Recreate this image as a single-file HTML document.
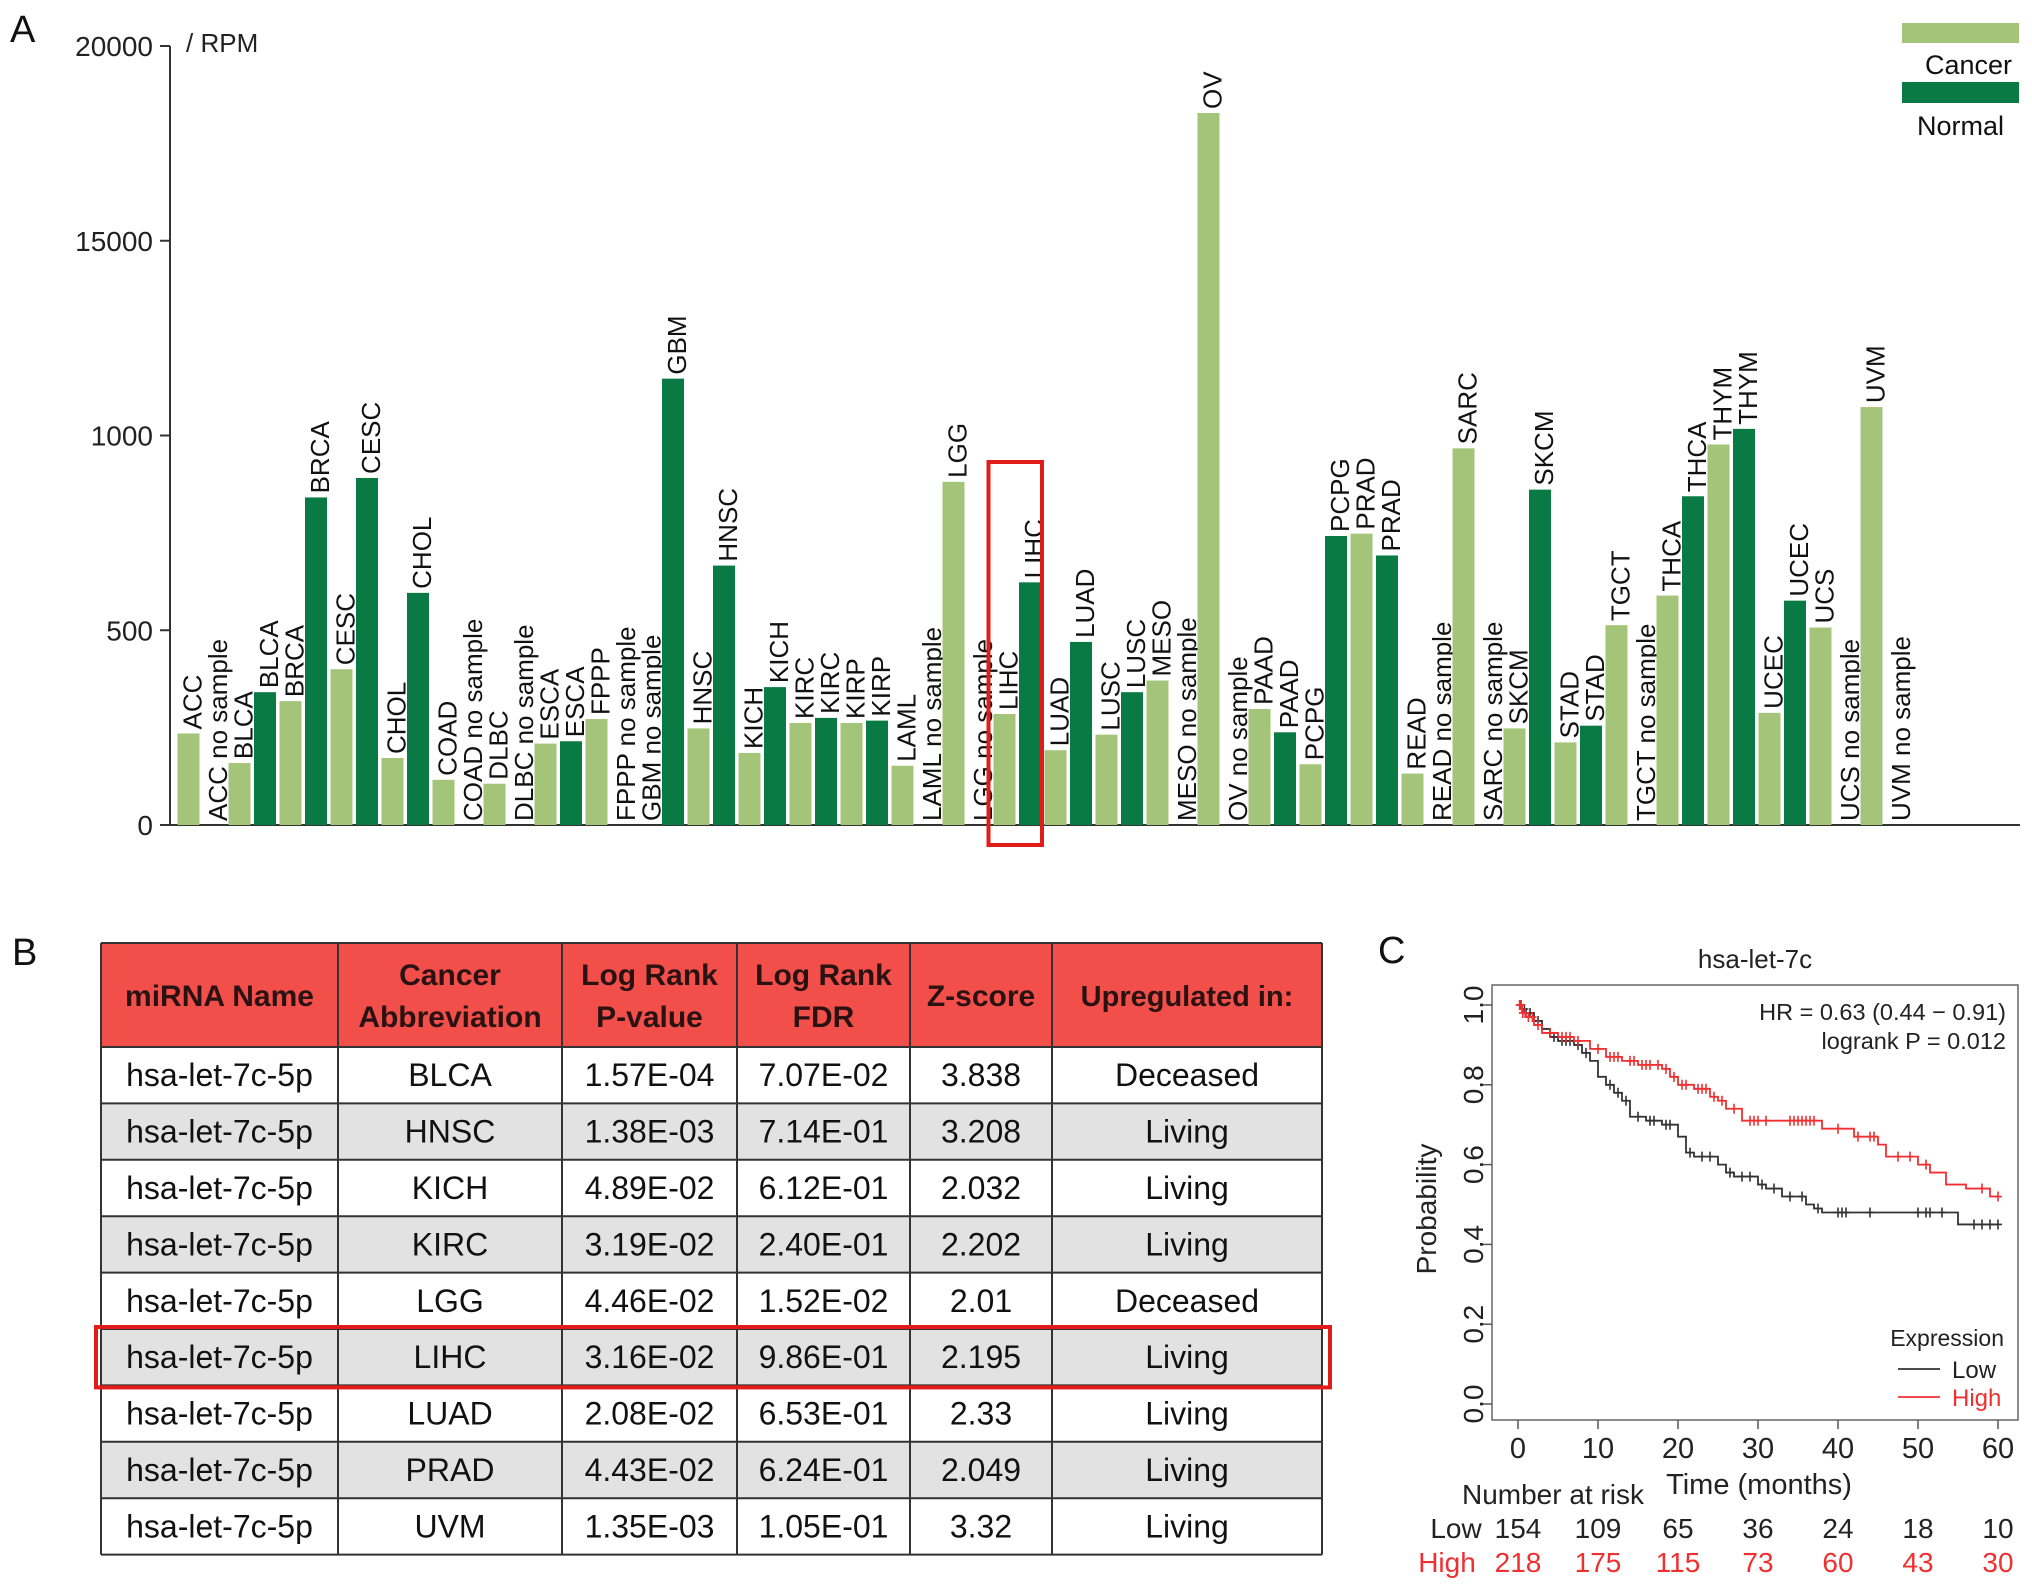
<!DOCTYPE html>
<html><head><meta charset="utf-8"><style>
html,body{margin:0;padding:0;background:#fff;}
svg{display:block;font-family:"Liberation Sans",Arial,sans-serif;}
</style></head><body>
<svg id="fig" width="2032" height="1585" viewBox="0 0 2032 1585">
<g id="panelA"></g>
<g id="panelB"></g>
<g id="panelC"></g>
</svg>
<script>
// ---------- Panel A data ----------
const categories = ["ACC","BLCA","BRCA","CESC","CHOL","COAD","DLBC","ESCA","FPPP","GBM","HNSC","KICH","KIRC","KIRP","LAML","LGG","LIHC","LUAD","LUSC","MESO","OV","PAAD","PCPG","PRAD","READ","SARC","SKCM","STAD","TGCT","THCA","THYM","UCEC","UCS","UVM"];
const cancerValues = [2350,1590,3180,4000,1720,1160,1060,2090,2720,null,2480,1850,2620,2620,1520,8810,2850,1920,2320,3710,18280,2980,1560,7480,1320,9670,2480,2120,5130,5890,9770,2880,5070,10730];
const normalValues = [null,3410,8410,8910,5960,null,null,2150,null,11460,6660,3540,2750,2680,null,null,6230,4700,3410,null,null,2380,7420,6920,null,null,8610,2550,null,8440,10170,5760,null,null];
const yTickValues = [0,5000,10000,15000,20000];
const yTickLabels = ["0","500","1000","15000","20000"];

// ---------- Panel B data ----------
const tableHeader = [["miRNA Name"],["Cancer","Abbreviation"],["Log Rank","P-value"],["Log Rank","FDR"],["Z-score"],["Upregulated in:"]];
const tableRows = [
["hsa-let-7c-5p","BLCA","1.57E-04","7.07E-02","3.838","Deceased"],
["hsa-let-7c-5p","HNSC","1.38E-03","7.14E-01","3.208","Living"],
["hsa-let-7c-5p","KICH","4.89E-02","6.12E-01","2.032","Living"],
["hsa-let-7c-5p","KIRC","3.19E-02","2.40E-01","2.202","Living"],
["hsa-let-7c-5p","LGG","4.46E-02","1.52E-02","2.01","Deceased"],
["hsa-let-7c-5p","LIHC","3.16E-02","9.86E-01","2.195","Living"],
["hsa-let-7c-5p","LUAD","2.08E-02","6.53E-01","2.33","Living"],
["hsa-let-7c-5p","PRAD","4.43E-02","6.24E-01","2.049","Living"],
["hsa-let-7c-5p","UVM","1.35E-03","1.05E-01","3.32","Living"]];

// ---------- Panel C data ----------
const lowTimes = [0,0.5,1,2,3,4,5,7,8,9,10,11,12,13,14,16,18,20,21,22,25,26,27,30,31,33,36,37,38,55];
const lowSurv  = [1,0.99,0.98,0.96,0.94,0.92,0.91,0.90,0.88,0.86,0.82,0.80,0.78,0.76,0.72,0.71,0.70,0.67,0.63,0.62,0.60,0.58,0.57,0.55,0.54,0.52,0.50,0.49,0.48,0.45];
const highTimes = [0,0.5,1,2,3,5,7,9,11,13,15,18,19,20,22,24,25,26,28,38,42,45,46,50,51.5,53.5,56,59];
const highSurv  = [1,0.98,0.97,0.95,0.93,0.92,0.91,0.89,0.87,0.86,0.85,0.84,0.82,0.80,0.79,0.77,0.76,0.74,0.71,0.69,0.67,0.65,0.62,0.60,0.58,0.55,0.54,0.52];
const lowCensor = [0.3,0.8,1.5,2.5,4.5,5.5,6,6.5,7.5,8.5,11.5,12.5,13.5,15,16.5,17,18.5,19,21.5,23,24,26.5,28,29,30.5,32,34,35.5,37.5,40,40.5,41,44,50,51,51.5,53,57,58,59,60];
const highCensor = [0.2,0.4,0.6,0.9,1.3,1.8,2.5,4,5.5,6,6.5,7.5,10,11.5,12,12.5,14,14.5,15.5,16,16.5,17.5,18.5,19.5,20.5,21,22.5,23,23.5,24.5,25.5,27,29,29.5,30,31,34,34.5,35,35.5,36,36.5,37,40,42.5,44,44.5,47.5,49,51,58,60];
const xTicksC = [0,10,20,30,40,50,60];
const yTicksC = [0,0.2,0.4,0.6,0.8,1.0];
const riskLow = [154,109,65,36,24,18,10];
const riskHigh = [218,175,115,73,60,43,30];

const NS="http://www.w3.org/2000/svg";
function mk(tag,attrs,parent,text){const e=document.createElementNS(NS,tag);for(const k in attrs)e.setAttribute(k,attrs[k]);if(text!==undefined)e.textContent=text;parent.appendChild(e);return e;}

// ================= Panel A =================
(function(){
const g=document.getElementById('panelA');
const x0=170, yBase=825, yTop=46, yMax=20000;
const slotW=25.5, firstC=188.5, barW=22;
const yS=v=>yBase-(v/yMax)*(yBase-yTop);
const xS=slot=>firstC+slot*slotW;
let t=mk('text',{x:10,y:42,'font-size':38,fill:'#111'},g,'A');


t=mk('text',{x:186,y:52,'font-size':26,fill:'#222'},g,'/ RPM');


let l=mk('line',{x1:x0,y1:yTop,x2:x0,y2:yBase,stroke:'#333','stroke-width':2},g);


l=mk('line',{x1:x0,y1:yBase,x2:2020,y2:yBase,stroke:'#333','stroke-width':2},g);


yTickValues.forEach((v,i)=>{
  const y=yS(v);
  const tk=mk('line',{x1:x0-10,y1:y,x2:x0,y2:y,stroke:'#333','stroke-width':2},g);
  
  
  const tl=mk('text',{x:153,y:y+10,'font-size':28,'text-anchor':'end',fill:'#222'},g,yTickLabels[i]);
  
  
});
function bar(slot,val,name,color,kind){
  const cx=xS(slot);
  let topY=yBase, label=name+' no sample';
  if(val!==null){
    topY=yS(val);
    const r=mk('rect',{x:cx-barW/2,y:topY,width:barW,height:yBase-topY,fill:color},g);
    
    
    label=name;
  }
  const lx=cx+13, ly=topY-4;
  const tx=mk('text',{x:lx,y:ly,'font-size':26,fill:'#111',transform:`rotate(-90 ${lx} ${ly})`},g,label);
  
  
}
categories.forEach((c,i)=>{
  bar(2*i,cancerValues[i],c,'#a4c47a','cancer');
  bar(2*i+1,normalValues[i],c,'#0a7a45','normal');
});
// legend
let r=mk('rect',{x:1902,y:23,width:117,height:20,fill:'#a4c47a'},g);


t=mk('text',{x:2012,y:74,'font-size':27,'text-anchor':'end',fill:'#111'},g,'Cancer');


r=mk('rect',{x:1902,y:82,width:117,height:21,fill:'#0a7a45'},g);


t=mk('text',{x:2004,y:135,'font-size':27,'text-anchor':'end',fill:'#111'},g,'Normal');


// highlight box around LIHC
const li=categories.indexOf('LIHC');
r=mk('rect',{x:xS(2*li)-16,y:462,width:xS(2*li+1)-xS(2*li)+28,height:383,fill:'none',stroke:'#e21b1b','stroke-width':4},g);


})();

// ================= Panel B =================
(function(){
const g=document.getElementById('panelB');
let t=mk('text',{x:12,y:965,'font-size':38,fill:'#111'},g,'B');


const cols=[101,338,562,737,910,1052,1322];
const top=943, hdrB=1047, rowH=56.4;
let r=mk('rect',{x:cols[0],y:top,width:cols[6]-cols[0],height:hdrB-top,fill:'#f24f4a'},g);


tableRows.forEach((row,i)=>{
  const y=hdrB+i*rowH;
  const rr=mk('rect',{x:cols[0],y:y,width:cols[6]-cols[0],height:rowH,fill:i%2?'#e2e2e2':'#ffffff'},g);
  
  
  row.forEach((cell,j)=>{
    const cx=(cols[j]+cols[j+1])/2;
    const tc=mk('text',{x:cx,y:y+rowH/2+11,'font-size':32,'text-anchor':'middle',fill:'#111'},g,cell);
    
    
  });
});
tableHeader.forEach((h,j)=>{
  const cx=(cols[j]+cols[j+1])/2;
  const fs=j===5?29:30;
  if(h.length===1){
    const th=mk('text',{x:cx,y:(top+hdrB)/2+11,'font-size':fs,'font-weight':'bold','text-anchor':'middle',fill:'#2a1212'},g,h[0]);
    
    
  } else {
    h.forEach((line,k)=>{
      const th=mk('text',{x:cx,y:top+42+k*42,'font-size':fs,'font-weight':'bold','text-anchor':'middle',fill:'#2a1212'},g,line);
      
      
    });
  }
});
const bottom=hdrB+tableRows.length*rowH;
cols.forEach(x=>{const gl=mk('line',{x1:x,y1:top,x2:x,y2:bottom,stroke:'#333','stroke-width':2},g);});
[top,hdrB].concat(tableRows.map((_,i)=>hdrB+(i+1)*rowH)).forEach(y=>{const gl=mk('line',{x1:cols[0],y1:y,x2:cols[6],y2:y,stroke:'#333','stroke-width':2},g);});
const li=5;
r=mk('rect',{x:96,y:hdrB+li*rowH-2,width:1234,height:rowH+4,fill:'none',stroke:'#e21b1b','stroke-width':4},g);


})();

// ================= Panel C =================
(function(){
const g=document.getElementById('panelC');
const L=1492,R=2018,T=985,B=1420;
const xS=v=>1518+v/60*(1998-1518);
const yS=v=>1404-v*(1404-1005);
let t=mk('text',{x:1378,y:963,'font-size':38,fill:'#111'},g,'C');


t=mk('text',{x:1755,y:968,'font-size':26,'text-anchor':'middle',fill:'#222'},g,'hsa-let-7c');


let r=mk('rect',{x:L,y:T,width:R-L,height:B-T,fill:'none',stroke:'#666','stroke-width':1.5},g);


xTicksC.forEach((v,i)=>{
  const x=xS(v);
  const tk=mk('line',{x1:x,y1:B,x2:x,y2:B+9,stroke:'#555','stroke-width':1.5},g);
  
  
  const tl=mk('text',{x:x,y:1458,'font-size':29,'text-anchor':'middle',fill:'#222'},g,String(v));
  
  
  const a=mk('text',{x:x,y:1538,'font-size':28,'text-anchor':'middle',fill:'#222'},g,String(riskLow[i]));
  
  
  const b=mk('text',{x:x,y:1572,'font-size':28,'text-anchor':'middle',fill:'#f03030'},g,String(riskHigh[i]));
  
  
});
yTicksC.forEach(v=>{
  const y=yS(v);
  const tk=mk('line',{x1:L-9,y1:y,x2:L,y2:y,stroke:'#555','stroke-width':1.5},g);
  
  
  const tl=mk('text',{x:1483,y:y,'font-size':28,'text-anchor':'middle',fill:'#222',transform:`rotate(-90 1483 ${y})`},g,v.toFixed(1));
  
  
});
t=mk('text',{x:1436,y:1209,'font-size':28,'text-anchor':'middle',fill:'#222',transform:'rotate(-90 1436 1209)'},g,'Probability');


t=mk('text',{x:1759,y:1494,'font-size':29,'text-anchor':'middle',fill:'#222'},g,'Time (months)');


t=mk('text',{x:1553,y:1504,'font-size':28,'text-anchor':'middle',fill:'#222'},g,'Number at risk');


t=mk('text',{x:1456,y:1538,'font-size':28,'text-anchor':'middle',fill:'#222'},g,'Low');


t=mk('text',{x:1447,y:1572,'font-size':28,'text-anchor':'middle',fill:'#f03030'},g,'High');


t=mk('text',{x:2006,y:1020,'font-size':23.5,'text-anchor':'end',fill:'#222'},g,'HR = 0.63 (0.44 \u2212 0.91)');


t=mk('text',{x:2006,y:1049,'font-size':23.5,'text-anchor':'end',fill:'#222'},g,'logrank P = 0.012');


function curve(times,surv,cens,color,name){
  let d=`M${xS(times[0])},${yS(surv[0])}`;
  for(let i=1;i<times.length;i++){d+=` H${xS(times[i])} V${yS(surv[i])}`;}
  d+=` H${xS(60)}`;
  const p=mk('path',{d:d,fill:'none',stroke:color,'stroke-width':1.8},g);
  
  
  cens.forEach(ct=>{
    let s=surv[0];
    for(let i=0;i<times.length;i++){if(times[i]<=ct)s=surv[i];}
    const x=xS(ct),y=yS(s);
    const c=mk('path',{d:`M${x-4},${y}H${x+4}M${x},${y-5}V${y+5}`,stroke:color,'stroke-width':1.6},g);
    
    
  });
}
curve(lowTimes,lowSurv,lowCensor,'#333','low');
curve(highTimes,highSurv,highCensor,'#f03030','high');
t=mk('text',{x:2004,y:1346,'font-size':23,'text-anchor':'end',fill:'#222'},g,'Expression');


let ln=mk('line',{x1:1898,y1:1369,x2:1940,y2:1369,stroke:'#333','stroke-width':1.8},g);


t=mk('text',{x:1952,y:1378,'font-size':24,fill:'#222'},g,'Low');


ln=mk('line',{x1:1898,y1:1397,x2:1940,y2:1397,stroke:'#f03030','stroke-width':1.8},g);


t=mk('text',{x:1952,y:1406,'font-size':24,fill:'#f03030'},g,'High');


})();
</script>
</body></html>
